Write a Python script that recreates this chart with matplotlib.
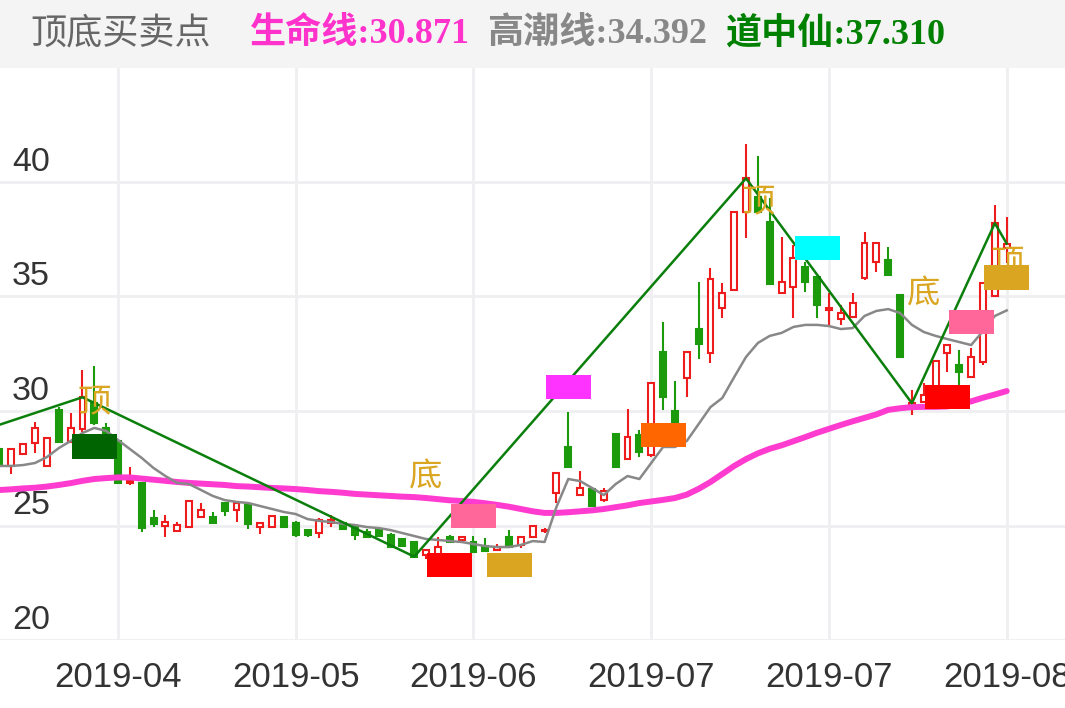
# ================================================================
# 0. Section: IMPORTS
# ================================================================
import matplotlib
matplotlib.use("Agg")
import numpy as np
from matplotlib import pyplot as plt
from matplotlib import transforms
from matplotlib.patches import Rectangle


# ================================================================
# 1. Section: DATA
# ================================================================
OPEN = [28.34, 27.60, 28.12, 28.60, 27.60, 30.04, 28.65, 29.20, 30.35, 29.26,
        28.70, 26.86, 26.86, 25.33, 24.98, 24.78, 24.95, 25.37, 25.35, 25.98,
        25.68, 25.90, 24.95, 24.93, 25.37, 25.10, 24.80, 24.67, 25.10, 25.10,
        24.98, 24.72, 24.80, 24.60, 24.41, 24.28, 23.70, 23.67, 24.50, 24.37,
        24.28, 24.10, 23.95, 24.50, 24.15, 24.50, 24.75, 26.42, 28.43, 26.33,
        26.60, 26.10, 29.00, 27.90, 28.95, 28.10, 32.58, 30.00, 31.44, 33.58,
        32.53, 34.50, 35.28, 38.69, 39.35, 38.25, 35.15, 35.41, 36.30, 35.85,
        34.40, 34.00, 34.10, 35.80, 36.50, 36.60, 35.07, 30.20, 30.40, 30.80,
        32.53, 32.00, 31.48, 32.14, 35.00, 37.10]
HIGH = [28.40, 28.34, 28.60, 29.52, 28.82, 30.17, 29.91, 31.80, 31.97, 29.48,
        28.75, 27.55, 26.86, 25.68, 25.46, 25.15, 26.07, 25.98, 25.59, 25.98,
        25.98, 25.90, 25.11, 25.41, 25.37, 25.20, 24.85, 25.33, 25.46, 25.11,
        25.02, 24.85, 24.80, 24.67, 24.41, 24.28, 23.93, 24.50, 24.59, 24.54,
        24.54, 24.45, 24.19, 24.80, 24.50, 24.98, 24.89, 27.29, 29.96, 27.38,
        26.60, 26.64, 29.04, 30.09, 29.17, 31.22, 33.89, 31.31, 32.58, 35.63,
        36.24, 35.59, 38.69, 41.66, 41.14, 39.30, 37.60, 37.25, 36.50, 35.85,
        35.15, 34.63, 35.15, 37.82, 37.34, 37.16, 35.07, 30.92, 31.22, 32.23,
        32.88, 32.66, 32.75, 35.59, 39.00, 38.47]
LOW = [27.60, 27.25, 28.10, 28.17, 27.55, 28.60, 28.60, 29.10, 29.39, 28.86,
       26.85, 26.77, 24.72, 24.93, 24.50, 24.76, 24.93, 25.37, 25.11, 25.41,
       25.15, 24.85, 24.63, 24.93, 24.93, 24.50, 24.50, 24.45, 24.93, 24.85,
       24.37, 24.50, 24.50, 24.02, 24.06, 23.58, 23.54, 23.62, 24.28, 24.37,
       23.80, 23.89, 23.89, 24.06, 24.02, 24.50, 24.67, 25.98, 27.55, 26.33,
       25.81, 26.03, 27.51, 27.86, 27.99, 27.99, 30.04, 29.40, 30.61, 32.27,
       32.10, 34.06, 35.28, 37.55, 38.69, 35.55, 35.15, 34.06, 35.20, 34.06,
       33.76, 33.76, 34.10, 35.72, 36.07, 35.94, 32.36, 29.83, 30.35, 30.60,
       31.70, 31.14, 31.44, 32.00, 34.98, 36.46]
CLOSE = [27.64, 28.34, 28.56, 29.26, 28.80, 28.65, 29.26, 30.60, 29.48, 28.95,
         26.86, 26.95, 24.90, 25.07, 25.15, 25.00, 26.05, 25.68, 25.11, 25.62,
         25.98, 25.07, 25.11, 25.41, 24.95, 24.60, 24.60, 25.24, 25.24, 24.85,
         24.60, 24.50, 24.55, 24.05, 24.10, 23.64, 23.93, 24.06, 24.30, 24.50,
         23.84, 23.89, 24.06, 24.06, 24.50, 24.98, 24.80, 27.29, 27.55, 26.64,
         25.85, 26.50, 27.55, 28.86, 28.20, 31.22, 30.61, 29.50, 32.58, 32.93,
         35.76, 35.15, 38.69, 40.16, 38.70, 35.55, 35.63, 36.68, 35.63, 34.63,
         34.50, 34.30, 34.70, 37.34, 37.34, 35.94, 32.36, 30.34, 30.70, 32.20,
         32.88, 31.70, 32.36, 35.59, 38.20, 37.31]

# 生命线
LIFE_LINE = [26.55, 26.58, 26.62, 26.65, 26.70, 26.77, 26.85, 26.95, 27.03, 27.07,
             27.10, 27.10, 27.05, 27.00, 26.95, 26.90, 26.86, 26.83, 26.80, 26.77,
             26.72, 26.70, 26.67, 26.64, 26.62, 26.59, 26.55, 26.50, 26.47, 26.43,
             26.38, 26.35, 26.32, 26.29, 26.26, 26.24, 26.20, 26.15, 26.10, 26.07,
             26.03, 25.97, 25.90, 25.82, 25.72, 25.62, 25.55, 25.55, 25.58, 25.62,
             25.66, 25.72, 25.80, 25.88, 25.98, 26.05, 26.12, 26.20, 26.35, 26.60,
             26.90, 27.25, 27.60, 27.90, 28.15, 28.35, 28.50, 28.68, 28.86, 29.05,
             29.22, 29.39, 29.55, 29.70, 29.85, 30.05, 30.12, 30.17, 30.18, 30.18,
             30.20, 30.30, 30.42, 30.58, 30.72, 30.871]
# 高潮线
TIDE_LINE = [27.60, 27.60, 27.64, 27.73, 27.99, 28.38, 28.69, 29.04, 29.26, 29.13,
             28.73, 28.34, 27.95, 27.51, 27.16, 26.86, 26.81, 26.55, 26.29, 26.11,
             26.03, 25.98, 25.85, 25.72, 25.59, 25.50, 25.28, 25.20, 25.15, 25.07,
             25.02, 24.93, 24.89, 24.80, 24.67, 24.54, 24.41, 24.37, 24.32, 24.28,
             24.19, 24.10, 24.06, 24.06, 24.15, 24.32, 24.28, 25.81, 27.03, 26.94,
             26.64, 26.33, 26.81, 27.16, 27.03, 27.73, 28.43, 28.43, 28.69, 29.43,
             30.17, 30.57, 31.48, 32.36, 32.97, 33.28, 33.41, 33.67, 33.76, 33.76,
             33.71, 33.58, 33.62, 34.15, 34.37, 34.45, 34.28, 33.76, 33.45, 33.28,
             33.14, 33.01, 32.88, 33.49, 34.15, 34.392]
# 道中仙 (zigzag pivots)
ZZ_IDX = [0, 7, 35, 63, 77, 84, 85]
ZZ_VAL = [29.40, 30.60, 23.64, 40.16, 30.34, 38.20, 37.31]

# buy / sell boxes
SIGNAL_IDX = [8, 38, 40, 43, 48, 56, 69, 80, 82, 85]
SIGNAL_PRICE = [28.45, 23.28, 25.42, 23.28, 31.05, 28.96, 37.12, 30.60, 33.90, 35.83]
SIGNAL_KIND = ["S1", "B1", "B2", "B3", "B4", "B5", "S2", "B1", "B2", "B3"]

# 顶 / 底 labels
MARK_TEXT = ["顶", "底", "顶", "底", "顶"]
MARK_IDX = [8, 36, 64, 78, 85]
MARK_PRICE = [30.35, 27.10, 39.10, 35.09, 36.45]

DATE_LABELS = ["2019-04", "2019-05", "2019-06", "2019-07", "2019-07", "2019-08"]
Y_LABELS = [20, 25, 30, 35, 40]


# ================================================================
# 2. Section: STYLE
# ================================================================
RED = "#ee1c1c"
GREEN = "#1b9a0c"
GRID = "#efeff2"
KIND_COLORS = {"S1": "#006400", "B1": "#ff0000", "B2": "#ff6699", "B3": "#daa520",
               "B4": "#ff33ff", "B5": "#ff6600", "S2": "#00ffff"}
W, H = 1065, 708


# ================================================================
# 3. Section: MAIN
# ================================================================
if __name__ == '__main__':
    fig = plt.figure(figsize=(W / 100, H / 100), dpi=100)
    fig.patch.set_facecolor("white")
    ax = fig.add_axes([0, (H - 640) / H, 1, (640 - 67.5) / H])
    ax.set_xlim(0.04, 89.92)
    ax.set_ylim(20, 45)
    for s in ax.spines.values():
        s.set_visible(False)

    # header band
    fig.patches.append(Rectangle((0, 1 - 68 / H), 1, 68 / H, transform=fig.transFigure,
                                 facecolor="#f4f4f4", edgecolor="none", zorder=0))
    hy = 1 - 34 / H
    fig.text(30 / W, hy, "顶底买卖点", fontsize=26, color="#666666",
             family=["Noto Sans CJK SC"], va="center")
    head_font = ["Liberation Serif", "Noto Sans CJK SC"]
    fig.text(250 / W, hy, f"生命线:{LIFE_LINE[-1]:.3f}", fontsize=26, color="#ff33cc",
             family=head_font, weight="bold", va="center")
    fig.text(487 / W, hy, f"高潮线:{TIDE_LINE[-1]:.3f}", fontsize=26, color="#888888",
             family=head_font, weight="bold", va="center")
    fig.text(725 / W, hy, f"道中仙:{ZZ_VAL[-1]:.3f}", fontsize=26, color="#008000",
             family=head_font, weight="bold", va="center")

    # grid
    tick_pos = list(range(10, len(CLOSE), 15))
    for v in Y_LABELS:
        ax.axhline(v, color=GRID, lw=2, zorder=0)
    for p in tick_pos:
        ax.axvline(p, color=GRID, lw=2, zorder=0)

    # y labels sit above their grid line
    ytrans = transforms.blended_transform_factory(ax.transAxes, ax.transData)
    ytrans = transforms.offset_copy(ytrans, fig=fig, y=11, units="dots")
    for v in Y_LABELS:
        ax.text(12 / W, v, str(v), transform=ytrans, fontsize=24.5, color="#333333",
                family="Liberation Sans", ha="left", va="baseline")
    ax.set_yticks([])
    ax.set_xticks(tick_pos, DATE_LABELS, fontsize=25, color="#333333", family="Liberation Sans")
    ax.tick_params(axis="x", length=0, pad=15)

    # candles
    x = np.arange(len(CLOSE))
    o = np.array(OPEN)
    c = np.array(CLOSE)
    hi = np.array(HIGH)
    lo = np.array(LOW)
    up = c >= o
    bottom = np.minimum(o, c)
    height = np.maximum(np.abs(c - o), 0.05)
    ax.vlines(x[up], lo[up], hi[up], color=RED, lw=1.5, zorder=2)
    ax.vlines(x[~up], lo[~up], hi[~up], color=GREEN, lw=1.5, zorder=2)
    ax.bar(x[up], height[up], bottom=bottom[up], width=0.5, facecolor="white",
           edgecolor=RED, linewidth=1.5, zorder=3)
    ax.bar(x[~up], height[~up], bottom=bottom[~up], width=0.5, facecolor=GREEN,
           edgecolor=GREEN, linewidth=1.5, zorder=3)

    # lines
    ax.plot(x, LIFE_LINE, color="#ff3ccf", lw=4.3, zorder=4, solid_capstyle="round")
    ax.plot(x, TIDE_LINE, color="#888888", lw=1.8, zorder=5)
    ax.plot(ZZ_IDX, ZZ_VAL, color="#0b7f0b", lw=1.8, zorder=6)

    # 顶 / 底 labels
    for t, i, p in zip(MARK_TEXT, MARK_IDX, MARK_PRICE):
        ax.text(i, p, t, fontsize=24, color="#daa520", family=["Noto Sans CJK SC"],
                ha="center", va="center", zorder=7)

    # signal boxes
    for i, p, k in zip(SIGNAL_IDX, SIGNAL_PRICE, SIGNAL_KIND):
        ax.bar(i, 1.05, bottom=p - 0.525, width=3.8, color=KIND_COLORS[k], zorder=8)

    fig.savefig("out.png", dpi=100)
